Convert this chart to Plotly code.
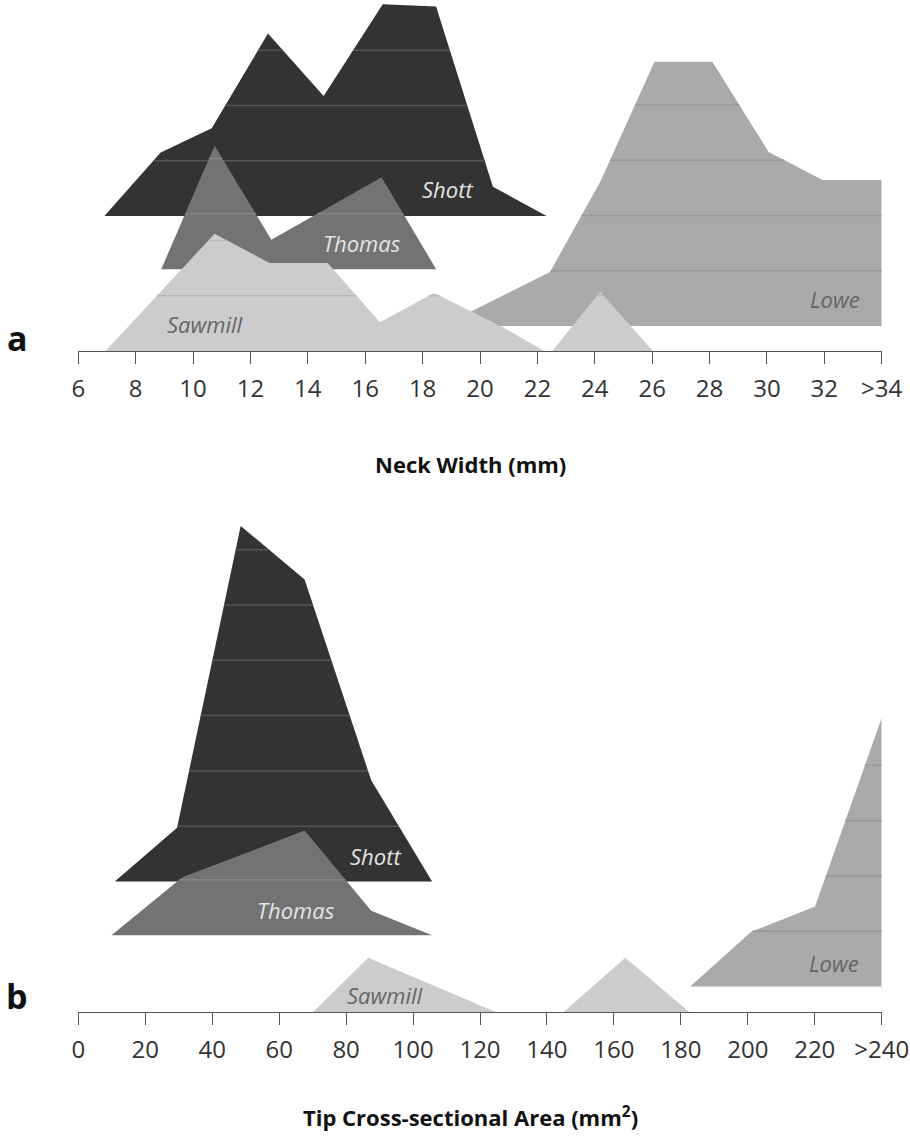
import plotly.graph_objects as go

# ---------------- data ----------------
# Panel a: Neck Width (mm)
a_tickvals = [6, 8, 10, 12, 14, 16, 18, 20, 22, 24, 26, 28, 30, 32, 34]
a_ticktext = ["6", "8", "10", "12", "14", "16", "18", "20", "22", "24", "26", "28", "30", "32", ">34"]

shott_a_x = [6.91, 8.87, 10.65, 12.61, 14.55, 16.61, 18.47, 20.45, 22.32]
shott_a_h = [0, 1.15, 1.59, 3.30, 2.17, 3.83, 3.79, 0.53, 0]
thomas_a_x = [8.89, 10.75, 12.73, 16.57, 18.47]
thomas_a_h = [0, 2.23, 0.53, 1.66, 0]
lowe_a_x = [18.68, 22.44, 24.2, 26.08, 28.10, 30.06, 31.94, 34.0, 34.0]
lowe_a_h = [0, 0.98, 2.62, 4.78, 4.78, 3.15, 2.64, 2.64, 0]
sawmill_a_x1 = [6.95, 10.75, 12.67, 14.69, 16.51, 18.40, 20.86, 22.24]
sawmill_a_h1 = [0, 2.12, 1.59, 1.59, 0.52, 1.05, 0.41, 0]
sawmill_a_x2 = [22.52, 24.19, 26.02]
sawmill_a_h2 = [0, 1.07, 0]

# Panel b: Tip Cross-sectional Area (mm2)
b_tickvals = [0, 20, 40, 60, 80, 100, 120, 140, 160, 180, 200, 220, 240]
b_ticktext = ["0", "20", "40", "60", "80", "100", "120", "140", "160", "180", "200", "220", ">240"]

shott_b_x = [10.9, 29.5, 48.5, 67.6, 87.5, 105.7]
shott_b_h = [0, 0.97, 6.43, 5.46, 1.83, 0]
thomas_b_x = [9.9, 31.2, 67.6, 87.5, 105.7]
thomas_b_h = [0, 1.05, 1.89, 0.44, 0]
lowe_b_x = [182.8, 201.0, 220.1, 240.0, 240.0]
lowe_b_h = [0, 0.99, 1.45, 4.86, 0]
sawmill_b_x1 = [70.2, 86.6, 124.7]
sawmill_b_h1 = [0, 0.98, 0]
sawmill_b_x2 = [145.0, 163.4, 182.5]
sawmill_b_h2 = [0, 0.98, 0]

# baselines of each ridge (in grid units above the axis)
base_a = {"Shott": 2.44, "Thomas": 1.48, "Lowe": 0.45, "Sawmill": 0.0}
base_b = {"Shott": 2.36, "Thomas": 1.39, "Lowe": 0.46, "Sawmill": 0.0}

fills = {"Shott": "#333333", "Thomas": "#737373", "Lowe": "#aaaaaa", "Sawmill": "#cccccc"}
grids = {"Shott": "#555555", "Thomas": "#868686", "Lowe": "#999999", "Sawmill": "#b8b8b8"}
label_col = {"Shott": "#e4e4e4", "Thomas": "#e4e4e4", "Lowe": "#666666", "Sawmill": "#666666"}

FONT = "Open Sans"

fig = go.Figure()


def hlines(xs, ys, base):
    gx, gy = [], []
    top = max(ys)
    k = 1
    n = len(xs)
    while base + k < top:
        lev = base + k
        pts = []
        for i in range(n):
            x1, y1 = xs[i], ys[i]
            x2, y2 = xs[(i + 1) % n], ys[(i + 1) % n]
            if (y1 <= lev < y2) or (y2 <= lev < y1):
                pts.append(x1 + (lev - y1) * (x2 - x1) / (y2 - y1))
        pts.sort()
        for j in range(0, len(pts) - 1, 2):
            gx += [pts[j], pts[j + 1], None]
            gy += [lev, lev, None]
        k += 1
    return gx, gy


def add_ridge(name, pieces, base, xa, ya):
    for xs, hs in pieces:
        ys = [base + h for h in hs]
        fig.add_trace(go.Scatter(x=xs, y=ys, fill="toself", fillcolor=fills[name],
                                 mode="none", xaxis=xa, yaxis=ya, hoverinfo="skip",
                                 showlegend=False))
        gx, gy = hlines(xs, ys, base)
        if gx:
            fig.add_trace(go.Scatter(x=gx, y=gy, mode="lines",
                                     line=dict(color=grids[name], width=1.5),
                                     xaxis=xa, yaxis=ya, hoverinfo="skip",
                                     showlegend=False))


# panel a
add_ridge("Shott", [(shott_a_x, shott_a_h)], base_a["Shott"], "x", "y")
add_ridge("Thomas", [(thomas_a_x, thomas_a_h)], base_a["Thomas"], "x", "y")
add_ridge("Lowe", [(lowe_a_x, lowe_a_h)], base_a["Lowe"], "x", "y")
add_ridge("Sawmill", [(sawmill_a_x1, sawmill_a_h1), (sawmill_a_x2, sawmill_a_h2)],
          base_a["Sawmill"], "x", "y")
# panel b
add_ridge("Shott", [(shott_b_x, shott_b_h)], base_b["Shott"], "x2", "y2")
add_ridge("Thomas", [(thomas_b_x, thomas_b_h)], base_b["Thomas"], "x2", "y2")
add_ridge("Lowe", [(lowe_b_x, lowe_b_h)], base_b["Lowe"], "x2", "y2")
add_ridge("Sawmill", [(sawmill_b_x1, sawmill_b_h1), (sawmill_b_x2, sawmill_b_h2)],
          base_b["Sawmill"], "x2", "y2")

W, H = 910, 1137
G = 55.3  # px per grid unit
xl, xr = 78.3, 881.7
ya_axis_px, ya_top_px = 351, 0
yb_axis_px, yb_top_px = 1012, 500

axis_common = dict(showline=True, linecolor="#555555", linewidth=1,
                   ticks="outside", ticklen=12, tickcolor="#555555", tickwidth=1,
                   showgrid=False, zeroline=False, ticklabelstandoff=4,
                   tickfont=dict(family=FONT, size=24, color="#333333"))

fig.update_layout(
    width=W, height=H, margin=dict(l=0, r=0, t=0, b=0, autoexpand=False),
    paper_bgcolor="white", plot_bgcolor="white",
    showlegend=False,
    xaxis=dict(domain=[xl / W, xr / W], range=[6, 34], anchor="y",
               tickmode="array", tickvals=a_tickvals, ticktext=a_ticktext, **axis_common),
    yaxis=dict(domain=[1 - ya_axis_px / H, 1 - ya_top_px / H],
               range=[0, (ya_axis_px - ya_top_px) / G], visible=False),
    xaxis2=dict(domain=[xl / W, xr / W], range=[0, 240], anchor="y2",
                tickmode="array", tickvals=b_tickvals, ticktext=b_ticktext, **axis_common),
    yaxis2=dict(domain=[1 - yb_axis_px / H, 1 - yb_top_px / H],
                range=[0, (yb_axis_px - yb_top_px) / G], visible=False),
)

# series labels
labels_a = [("Shott", 18.85, 2.93), ("Thomas", 15.89, 1.95), ("Sawmill", 10.41, 0.49), ("Lowe", 32.38, 0.94)]
labels_b = [("Shott", 88.9, 2.82), ("Thomas", 65.0, 1.84), ("Sawmill", 91.6, 0.31), ("Lowe", 225.8, 0.89)]
for name, x, y in labels_a:
    fig.add_annotation(x=x, y=y, xref="x", yref="y", text="<i>%s</i>" % name, showarrow=False,
                       xanchor="center", yanchor="middle",
                       font=dict(family=FONT, size=22, color=label_col[name]))
for name, x, y in labels_b:
    fig.add_annotation(x=x, y=y, xref="x2", yref="y2", text="<i>%s</i>" % name, showarrow=False,
                       xanchor="center", yanchor="middle",
                       font=dict(family=FONT, size=22, color=label_col[name]))

# axis titles and panel letters
def paper_text(x, y, text, size):
    fig.add_annotation(x=x / W, y=1 - y / H, xref="paper", yref="paper", text=text,
                       showarrow=False, xanchor="center", yanchor="middle",
                       font=dict(family=FONT, size=size, color="#111111"))


paper_text(470, 464, "<b>Neck Width (mm)</b>", 22)
paper_text(470, 1116, "<b>Tip Cross-sectional Area (mm<sup>2</sup>)</b>", 22)
paper_text(17, 338, "<b>a</b>", 34)
paper_text(17, 996, "<b>b</b>", 34)

fig.write_html("out.html", config={"responsive": False, "displayModeBar": False},
               post_script="document.body.style.margin='0';document.body.style.overflow='hidden';")
